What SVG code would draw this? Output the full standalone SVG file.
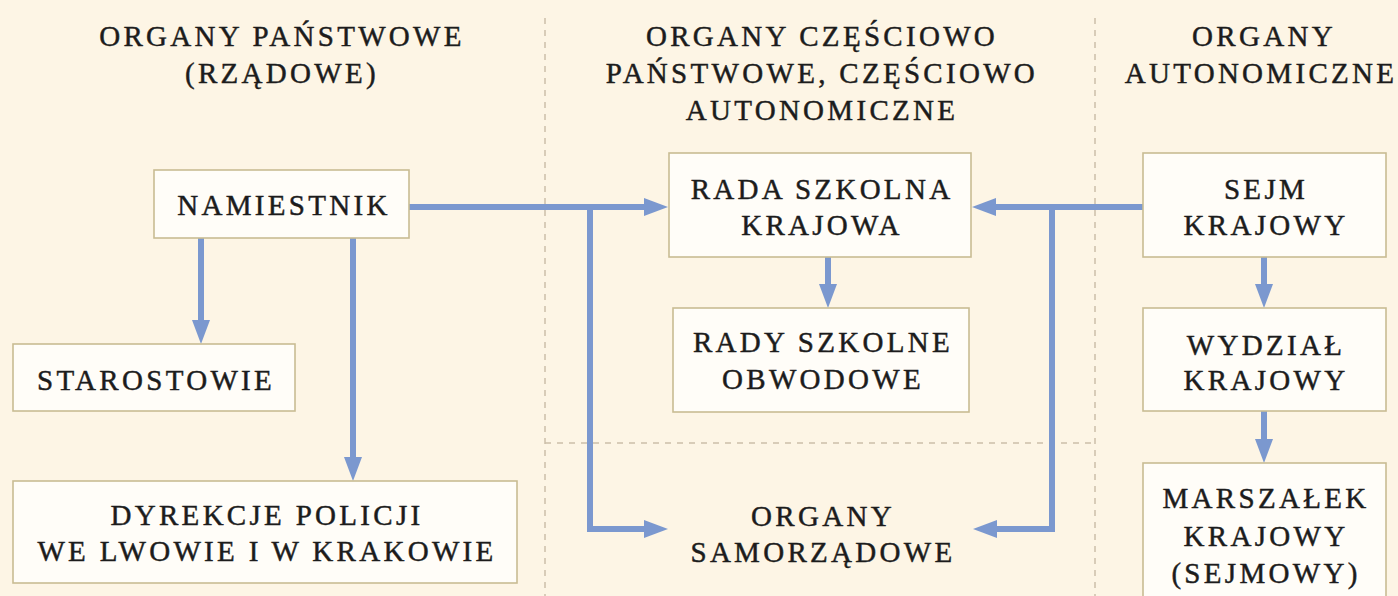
<svg xmlns="http://www.w3.org/2000/svg" width="1398" height="596" viewBox="0 0 1398 596">
<style>
.bg{fill:#fdf5e5}
.box{fill:#fffdf8;stroke:#c9bc93;stroke-width:1.6}
.t{font-family:"Liberation Serif","DejaVu Serif",serif;font-size:29px;letter-spacing:3.3px;fill:#1c1c1c;stroke:#1c1c1c;stroke-width:0.45;text-anchor:middle}
.dash{stroke:#cbbfa9;stroke-width:1.5;stroke-dasharray:6 6;fill:none}
.c{fill:none;stroke:#7b98cf;stroke-width:6;stroke-linejoin:miter;marker-end:url(#ah)}
</style>
<defs>
<marker id="ah" markerUnits="userSpaceOnUse" markerWidth="24" markerHeight="18" refX="4" refY="9" orient="auto" viewBox="0 0 24 18">
<path d="M0,0 L24,9 L0,18 Z" fill="#7b98cf"/>
</marker>
</defs>
<rect class="bg" x="0" y="0" width="1398" height="596"/>
<g id="dividers">
<line class="dash" x1="545" y1="18" x2="545" y2="596"/>
<line class="dash" x1="1095" y1="18" x2="1095" y2="596"/>
<line class="dash" x1="545" y1="443" x2="1095" y2="443"/>
</g>
<g id="headers">
<text class="t" x="282" y="46">ORGANY PAŃSTWOWE</text>
<text class="t" x="282" y="83">(RZĄDOWE)</text>
<text class="t" x="822" y="46">ORGANY CZĘŚCIOWO</text>
<text class="t" x="822" y="83">PAŃSTWOWE, CZĘŚCIOWO</text>
<text class="t" x="822" y="120">AUTONOMICZNE</text>
<text class="t" x="1264" y="46">ORGANY</text>
<text class="t" x="1261" y="83">AUTONOMICZNE</text>
</g>
<g id="connectors">
<path class="c" d="M409,207 H648"/>
<path class="c" d="M590,207 V529 H648"/>
<path class="c" d="M1143,207 H992"/>
<path class="c" d="M1052,207 V529 H993"/>
<path class="c" d="M201,238 V324"/>
<path class="c" d="M353,238 V461"/>
<path class="c" d="M828,257 V288"/>
<path class="c" d="M1264,257 V288"/>
<path class="c" d="M1264,411 V443"/>
</g>
<g id="namiestnik">
<rect class="box" x="154" y="170" width="255" height="68"/>
<text class="t" x="284" y="215">NAMIESTNIK</text>
</g>
<g id="starostowie">
<rect class="box" x="13" y="344" width="282" height="67"/>
<text class="t" x="156" y="390">STAROSTOWIE</text>
</g>
<g id="dyrekcje">
<rect class="box" x="13" y="481" width="504" height="102"/>
<text class="t" x="267" y="525">DYREKCJE POLICJI</text>
<text class="t" x="267" y="561">WE LWOWIE I W KRAKOWIE</text>
</g>
<g id="rada-krajowa">
<rect class="box" x="669" y="153" width="302" height="104"/>
<text class="t" x="822" y="199">RADA SZKOLNA</text>
<text class="t" x="822" y="235">KRAJOWA</text>
</g>
<g id="rady-obwodowe">
<rect class="box" x="673" y="308" width="296" height="104"/>
<text class="t" x="823" y="352">RADY SZKOLNE</text>
<text class="t" x="823" y="389">OBWODOWE</text>
</g>
<g id="organy-samorzadowe">
<text class="t" x="823" y="526">ORGANY</text>
<text class="t" x="823" y="562">SAMORZĄDOWE</text>
</g>
<g id="sejm">
<rect class="box" x="1143" y="153" width="243" height="104"/>
<text class="t" x="1266" y="199">SEJM</text>
<text class="t" x="1266" y="235">KRAJOWY</text>
</g>
<g id="wydzial">
<rect class="box" x="1143" y="308" width="243" height="103"/>
<text class="t" x="1266" y="355">WYDZIAŁ</text>
<text class="t" x="1266" y="390">KRAJOWY</text>
</g>
<g id="marszalek">
<rect class="box" x="1143" y="463" width="243" height="140"/>
<text class="t" x="1266" y="508">MARSZAŁEK</text>
<text class="t" x="1266" y="546">KRAJOWY</text>
<text class="t" x="1266" y="583">(SEJMOWY)</text>
</g>
</svg>
